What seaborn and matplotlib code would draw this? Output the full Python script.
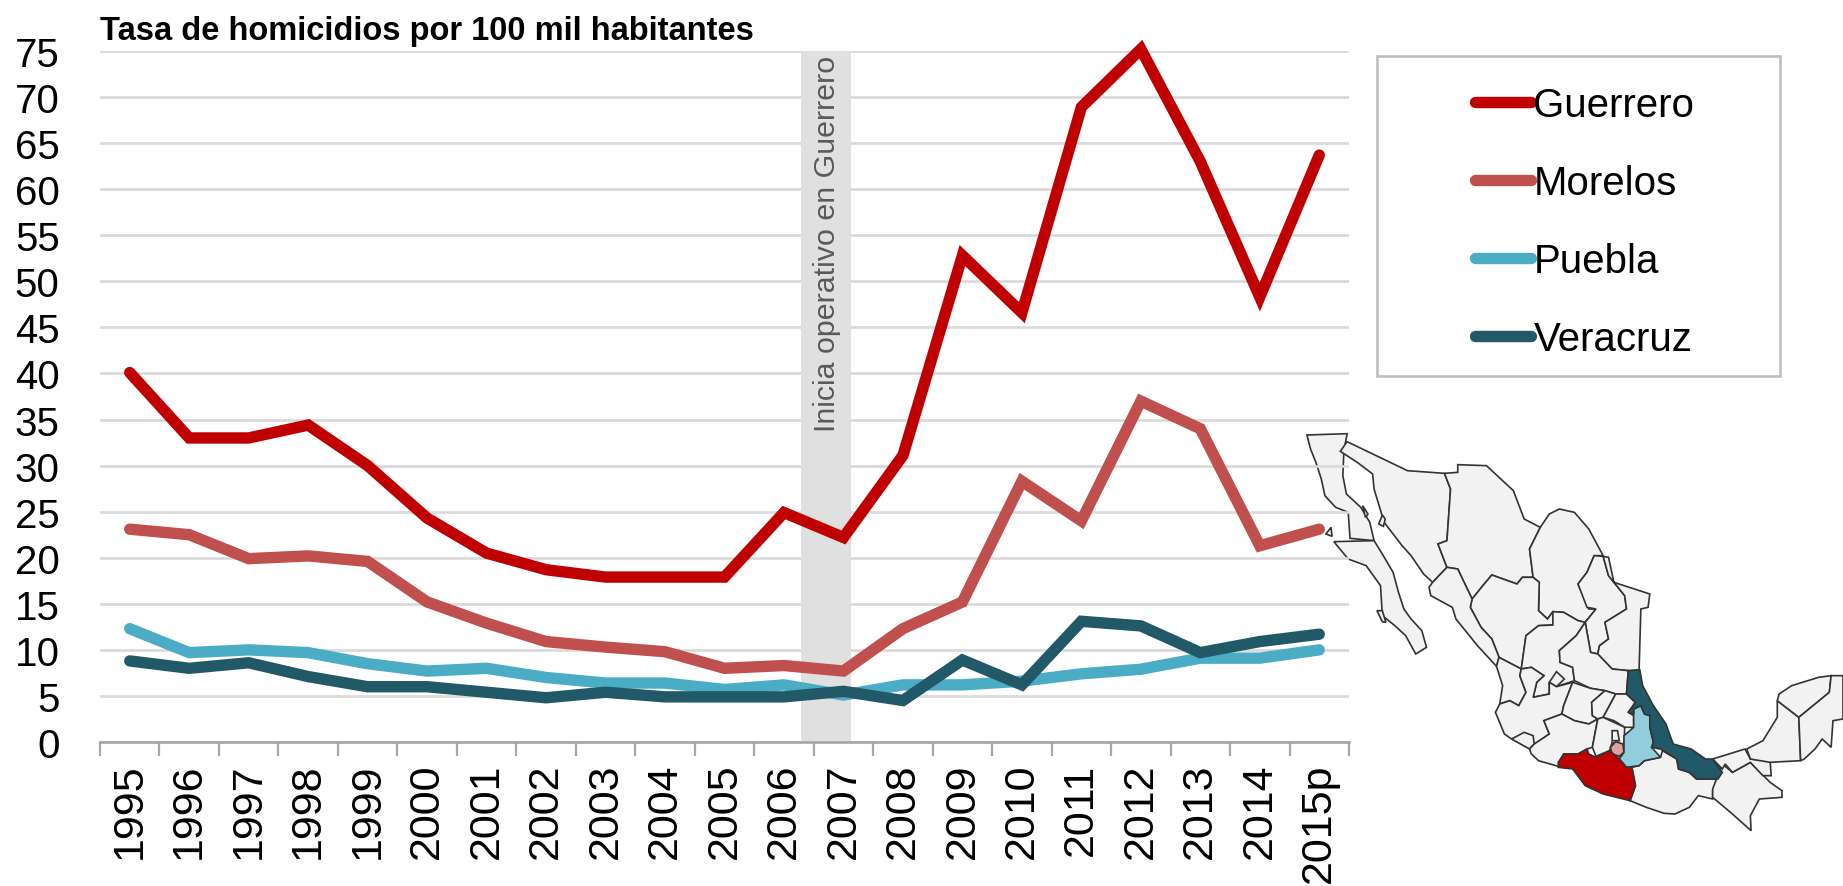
# -*- coding: utf-8 -*-
import pandas as pd
import matplotlib.pyplot as plt
import seaborn as sns
from matplotlib.patches import Rectangle
from matplotlib.ticker import MultipleLocator

# ==========================================
# 0. Data
# ==========================================
years = ['1995', '1996', '1997', '1998', '1999', '2000', '2001', '2002', '2003', '2004', '2005',
         '2006', '2007', '2008', '2009', '2010', '2011', '2012', '2013', '2014', '2015p']
guerrero = [40.1, 33.0, 33.0, 34.4, 30.0, 24.3, 20.5, 18.7, 17.9, 17.9, 17.9,
            24.9, 22.2, 31.1, 52.8, 46.6, 68.9, 75.2, 63.0, 48.3, 63.7]
morelos = [23.1, 22.5, 19.9, 20.2, 19.6, 15.2, 12.9, 10.9, 10.3, 9.8, 8.0,
           8.3, 7.7, 12.3, 15.2, 28.3, 24.0, 37.0, 34.0, 21.3, 23.1]
puebla = [12.3, 9.7, 10.0, 9.7, 8.5, 7.7, 8.0, 7.0, 6.4, 6.4, 5.7,
          6.2, 5.1, 6.2, 6.2, 6.6, 7.4, 7.9, 9.1, 9.1, 10.0]
veracruz = [8.8, 8.0, 8.6, 7.1, 6.0, 6.0, 5.4, 4.8, 5.4, 4.9, 4.9,
            4.9, 5.5, 4.5, 8.9, 6.2, 13.1, 12.6, 9.7, 10.9, 11.7]

# Map outlines (inset units)
baja_norte = [(75, 48), (187, 44), (178, 95), (175, 170), (185, 225), (225, 265), (250, 310), (262, 365),
              (195, 358), (190, 280), (155, 265), (125, 230), (115, 180), (100, 130), (85, 90)]
baja_sur = [(150, 368), (262, 365), (285, 405), (315, 460), (330, 520), (345, 570), (365, 600), (395, 635),
            (408, 685), (378, 705), (350, 650), (320, 620), (285, 590), (280, 500), (240, 440), (190, 420)]
sonora = [(187, 68), (355, 155), (458, 163), (475, 210), (465, 365), (440, 375), (465, 445), (425, 490),
          (400, 465), (365, 410), (340, 380), (290, 310), (262, 210), (258, 165), (215, 130), (168, 97)]
chihuahua = [(458, 163), (495, 160), (495, 137), (575, 140), (650, 215), (680, 300), (725, 325), (695, 390),
             (705, 475), (675, 475), (660, 495), (590, 468), (565, 500), (535, 540), (495, 450), (465, 445),
             (440, 375), (465, 365), (475, 210)]
coahuila = [(725, 325), (750, 285), (778, 270), (820, 280), (860, 330), (900, 410), (875, 410), (855, 460),
            (830, 495), (860, 570), (880, 570), (850, 610), (830, 605), (790, 580), (760, 578), (745, 600),
            (720, 575), (722, 490), (705, 475), (695, 390)]
nuevo_leon = [(875, 410), (900, 412), (915, 470), (960, 530), (965, 570), (905, 610), (915, 660), (890, 680),
              (885, 705), (865, 700), (850, 610), (880, 570), (855, 565), (830, 495), (855, 460)]
tamaulipas = [(900, 412), (915, 415), (930, 490), (1030, 525), (1025, 565), (1005, 570), (1000, 755), (970, 755),
              (925, 750), (885, 705), (890, 680), (915, 660), (905, 610), (965, 570), (960, 530), (915, 470)]
durango = [(535, 540), (565, 500), (590, 468), (660, 495), (675, 475), (705, 475), (722, 490), (720, 575),
           (745, 600), (760, 578), (760, 618), (720, 620), (685, 650), (672, 750), (610, 715), (590, 660),
           (560, 625), (530, 565)]
sinaloa = [(465, 445), (495, 450), (535, 540), (530, 565), (560, 625), (590, 660), (610, 715), (603, 742),
           (550, 680), (490, 600), (480, 565), (420, 530), (415, 505), (425, 490)]
nayarit = [(603, 742), (610, 715), (672, 750), (668, 770), (685, 820), (665, 860), (640, 845), (612, 855), (620, 800)]
zacatecas = [(760, 578), (790, 580), (830, 605), (850, 610), (825, 650), (778, 695), (780, 730), (815, 745),
             (820, 785), (770, 803), (750, 790), (750, 825), (705, 835), (715, 790), (735, 770), (700, 745),
             (672, 750), (685, 650), (720, 620), (760, 618)]
san_luis = [(850, 610), (865, 700), (885, 705), (925, 750), (970, 755), (965, 825), (935, 825), (905, 815),
            (865, 808), (820, 785), (815, 745), (780, 730), (778, 695), (825, 650)]
aguascalientes = [(750, 790), (770, 758), (792, 780), (770, 803)]
jalisco = [(600, 880), (612, 855), (640, 845), (665, 860), (685, 820), (668, 770), (672, 750), (700, 745),
           (735, 770), (715, 790), (705, 835), (750, 825), (750, 790), (770, 803), (815, 790), (790, 860),
           (785, 885), (735, 905), (750, 945), (710, 975), (700, 990), (645, 960), (625, 945)]
colima = [(645, 960), (680, 940), (705, 950), (708, 975), (695, 990)]
guanajuato = [(815, 790), (865, 808), (905, 815), (868, 850), (870, 890), (885, 900), (860, 915), (820, 905),
              (785, 885), (790, 860)]
queretaro = [(905, 815), (935, 825), (900, 895), (885, 900), (870, 890), (868, 850)]
hidalgo = [(935, 825), (965, 825), (990, 850), (970, 880), (985, 890), (985, 925), (960, 925), (930, 905), (900, 895)]
michoacan = [(735, 905), (785, 885), (820, 905), (860, 915), (885, 900), (870, 985), (855, 990), (830, 1005),
             (790, 1005), (775, 1042), (720, 1025), (700, 1005), (695, 990), (708, 975), (750, 945)]
edomex = [(885, 900), (900, 895), (960, 925), (958, 985), (925, 970), (918, 995), (880, 1012), (870, 985)]
cdmx = [(925, 935), (940, 935), (945, 965), (925, 965)]
tlaxcala = [(965, 945), (990, 930), (1010, 950), (990, 965)]
oaxaca = [(980, 1045), (1000, 1040), (1015, 1025), (1060, 1015), (1065, 995), (1105, 1020), (1110, 1050),
          (1140, 1060), (1160, 1080), (1220, 1080), (1205, 1115), (1205, 1140), (1165, 1130), (1140, 1165),
          (1100, 1185), (1070, 1183), (1020, 1165), (975, 1145), (990, 1100)]
chiapas = [(1232, 1035), (1260, 1060), (1310, 1030), (1365, 1090), (1398, 1115), (1398, 1135), (1335, 1140),
           (1310, 1190), (1312, 1235), (1260, 1185), (1205, 1135), (1205, 1110)]
tabasco = [(1205, 1020), (1265, 1000), (1295, 990), (1310, 1020), (1365, 1025), (1368, 1070), (1345, 1070),
           (1310, 1030), (1260, 1060), (1240, 1035), (1232, 1050)]
campeche = [(1300, 990), (1345, 965), (1385, 895), (1385, 845), (1445, 895), (1450, 1025), (1365, 1030), (1310, 1020)]
yucatan = [(1385, 845), (1390, 825), (1425, 800), (1500, 775), (1535, 770), (1530, 820), (1445, 895)]
quintana_roo = [(1535, 770), (1568, 770), (1568, 900), (1540, 905), (1535, 985), (1510, 960), (1490, 990),
                (1460, 1020), (1450, 1025), (1445, 895), (1530, 820)]
isla_cedros = [(128, 345), (142, 325), (145, 352)]
isla_angel = [(230, 260), (245, 285), (238, 295)]
isla_tiburon = [(275, 315), (285, 288), (293, 300), (288, 322)]
isla_margarita = [(270, 575), (285, 575), (295, 610), (285, 608)]
map_morelos = [(920, 985), (935, 968), (955, 975), (958, 1000), (945, 1012), (925, 1005)]
map_puebla = [(985, 870), (1005, 860), (1015, 885), (1030, 890), (1030, 925), (1040, 970), (1035, 985), (1060, 1015),
              (1015, 1025), (1000, 1040), (965, 1045), (945, 1020), (958, 1000), (958, 950), (985, 925), (985, 890)]
map_veracruz = [(970, 755), (1002, 752), (1010, 800), (1040, 860), (1075, 915), (1095, 975), (1145, 990), (1185, 1020),
                (1205, 1020), (1232, 1060), (1220, 1080), (1160, 1080), (1140, 1060), (1110, 1050), (1105, 1020),
                (1060, 990), (1035, 985), (1040, 970), (1030, 925), (1030, 890), (1015, 885), (1005, 860), (985, 870),
                (985, 885), (970, 880), (990, 850), (965, 825)]
map_guerrero = [(775, 1030), (790, 1005), (830, 1005), (855, 990), (860, 1005), (880, 1015), (918, 995), (945, 1020),
                (965, 1045), (980, 1045), (990, 1100), (975, 1145), (900, 1125), (850, 1100), (815, 1050), (775, 1045)]

grey_states = [baja_norte, baja_sur, sonora, chihuahua, coahuila, nuevo_leon, tamaulipas, durango, sinaloa,
               nayarit, zacatecas, san_luis, aguascalientes, jalisco, colima, guanajuato, queretaro, hidalgo,
               michoacan, edomex, cdmx, tlaxcala, oaxaca, chiapas, tabasco, campeche, yucatan, quintana_roo,
               isla_cedros, isla_angel, isla_tiburon, isla_margarita]

df = pd.DataFrame({'Guerrero': guerrero, 'Morelos': morelos, 'Puebla': puebla, 'Veracruz': veracruz}, index=years)
df = df.rename_axis('year').reset_index().melt(id_vars='year', var_name='estado', value_name='tasa')

colors = {"Guerrero": "#C00000", "Morelos": "#C0504D", "Puebla": "#4BACC6", "Veracruz": "#215968"}

# ==========================================
# 1. Style
# ==========================================
sns.set_theme(style="white")
plt.rcParams['font.family'] = ['Liberation Sans', 'DejaVu Sans']

W, H = 1843, 887
fig = plt.figure(figsize=(W / 100, H / 100), dpi=100)

# ==========================================
# 2. Map goes under the chart
# ==========================================
ax_map = fig.add_axes([1280 / W, 0, 563 / W, 467 / H], zorder=0)
ax_map.set_xlim(0, 1568)
ax_map.set_ylim(1401, 0)
ax_map.axis('off')
for state in grey_states:
    xs, ys = zip(*state)
    ax_map.fill(xs, ys, facecolor='#F2F2F2', edgecolor='#333333', linewidth=1.2)
for state, c in [(map_morelos, '#E0A0A0'), (map_puebla, '#92CDDC'), (map_veracruz, '#215968'), (map_guerrero, '#C00000')]:
    xs, ys = zip(*state)
    ax_map.fill(xs, ys, facecolor=c, edgecolor='#333333', linewidth=1.2)

# ==========================================
# 3. Lines
# ==========================================
ax = fig.add_axes([100 / W, 1 - 743 / H, 1249 / W, 691 / H], zorder=1)
ax.patch.set_visible(False)

ax.axvspan(11.29, 12.12, ymin=0, ymax=1.005, color='#E0E0E0', linewidth=0, zorder=1)

sns.lineplot(data=df, x='year', y='tasa', hue='estado', palette=colors, sort=False, errorbar=None,
             linewidth=8.2, solid_capstyle='round', solid_joinstyle='miter', ax=ax, zorder=3, clip_on=False)

ax.set_xlim(-0.5, 20.5)
ax.set_ylim(0, 75)
ax.set_xlabel('')
ax.set_ylabel('')
ax.yaxis.set_major_locator(MultipleLocator(5))
ax.grid(axis='y', color='#D9D9D9', linewidth=1.9, zorder=0)
ax.grid(axis='x', visible=False)
ax.set_axisbelow(True)
for side in ['top', 'right', 'left']:
    ax.spines[side].set_visible(False)
ax.spines['bottom'].set_color('#A6A6A6')
ax.spines['bottom'].set_linewidth(1.9)

ax.tick_params(axis='y', length=0, pad=29, labelsize=29, labelcolor='black')
ax.set_xticks(range(len(years)))
ax.set_xticklabels(years, rotation=90, fontsize=31, color='black')
ax.set_xticks([i - 0.5 for i in range(len(years) + 1)], minor=True)
ax.tick_params(axis='x', which='major', length=0, pad=15)
ax.tick_params(axis='x', which='minor', length=10, width=1.6, color='#A6A6A6', bottom=True)

ax.text(11.72, 74.6, 'Inicia operativo en Guerrero', rotation=90, ha='center', va='top',
        fontsize=21.9, color='#595959', zorder=2)

# ==========================================
# 4. Title and legend
# ==========================================
fig.text(100 / W, 1 - 40 / H, 'Tasa de homicidios por 100 mil habitantes', fontsize=23.5,
         fontweight='bold', color='black', ha='left', va='baseline')

handles, labels = ax.get_legend_handles_labels()
ax.legend_.remove() if ax.get_legend() else None
fig.add_artist(Rectangle((1377 / W, 1 - 377 / H), 403 / W, 320 / H, transform=fig.transFigure,
                         facecolor='white', edgecolor='#BFBFBF', linewidth=1.9, zorder=0.5))
leg = fig.legend(handles, labels, loc='upper left', bbox_to_anchor=(1475 / W, 1 - 87 / H), frameon=False,
                 fontsize=29, borderpad=0, borderaxespad=0, handlelength=1.4, handletextpad=0.05,
                 labelspacing=0.995, labelcolor='black')
leg.set_zorder(5)

plt.savefig('out.png', dpi=100)
plt.close()
